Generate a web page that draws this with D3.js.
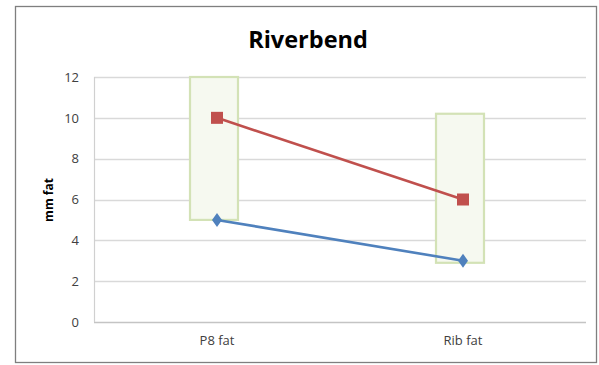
<!DOCTYPE html>
<html>
<head>
<meta charset="utf-8">
<script src="https://cdn.jsdelivr.net/npm/d3@7"></script>
<style>
  html, body { margin: 0; padding: 0; background: #fff; }
  svg { display: block; }
</style>
</head>
<body>
<svg id="chart" width="599" height="365"></svg>
<script>
// Measurement sites along the x axis
const categories = ["P8 fat", "Rib fat"];
// Two fat measurement series (mm)
const upperSeries = [10, 6];
const lowerSeries = [5, 3];
// Range boxes (high / low) drawn behind each site
const rangeHigh = [12, 10.2];
const rangeLow = [5, 2.9];
// Y axis ticks
const yTicks = [0, 2, 4, 6, 8, 10, 12];

const svg = d3.select("#chart");
const font = "'Open Sans', 'Liberation Sans', sans-serif";

// Chart frame
svg.append("rect")
  .attr("x", 15.5).attr("y", 6.5)
  .attr("width", 581).attr("height", 356)
  .attr("fill", "#fff")
  .attr("stroke", "#7f7f7f").attr("stroke-width", 1.3);

const plot = { left: 94, right: 586, top: 77, bottom: 322 };

const x = d3.scaleBand().domain(categories).range([plot.left, plot.right]);
const y = d3.scaleLinear().domain([0, 12]).range([plot.bottom, plot.top]);

// Gridlines
svg.append("g")
  .selectAll("line")
  .data(yTicks)
  .join("line")
  .attr("x1", plot.left).attr("x2", plot.right)
  .attr("y1", d => Math.round(y(d)) + 0.5).attr("y2", d => Math.round(y(d)) + 0.5)
  .attr("stroke", d => d === 0 ? "#c4c4c4" : "#d9d9d9")
  .attr("stroke-width", 1.5);

// Left axis line
svg.append("line")
  .attr("x1", plot.left + 0.5).attr("x2", plot.left + 0.5)
  .attr("y1", plot.top).attr("y2", plot.bottom)
  .attr("stroke", "#d0d0d0").attr("stroke-width", 1.2);

// Y tick labels
const yAxis = d3.axisLeft(y).tickValues(yTicks).tickSize(0).tickPadding(15);
const yg = svg.append("g").attr("transform", `translate(${plot.left},0)`).call(yAxis);
yg.select(".domain").remove();
yg.selectAll("text")
  .attr("font-family", font).attr("font-size", 13).attr("fill", "#404040");

// X category labels
const xAxis = d3.axisBottom(x).tickSize(0).tickPadding(14);
const xg = svg.append("g").attr("transform", `translate(0,${plot.bottom})`).call(xAxis);
xg.select(".domain").remove();
xg.selectAll("text")
  .attr("font-family", font).attr("font-size", 13).attr("fill", "#404040");

// Range boxes
const boxW = 48;
svg.append("g")
  .selectAll("rect")
  .data(categories)
  .join("rect")
  .attr("x", d => x(d) + x.bandwidth() / 2 - boxW / 2 - 3)
  .attr("y", (d, i) => y(rangeHigh[i]))
  .attr("width", boxW)
  .attr("height", (d, i) => y(rangeLow[i]) - y(rangeHigh[i]))
  .attr("fill", "#f6f9f0")
  .attr("stroke", "#d3e2b6")
  .attr("stroke-width", 2.2);

const cx = d => x(d) + x.bandwidth() / 2;
const line = d3.line().x(d => cx(d[0])).y(d => y(d[1]));

// Upper series (red squares)
svg.append("path")
  .datum(categories.map((c, i) => [c, upperSeries[i]]))
  .attr("d", line).attr("fill", "none")
  .attr("stroke", "#c0504d").attr("stroke-width", 2.6);
svg.append("g").selectAll("rect")
  .data(categories.map((c, i) => [c, upperSeries[i]]))
  .join("rect")
  .attr("x", d => cx(d[0]) - 6).attr("y", d => y(d[1]) - 6)
  .attr("width", 12).attr("height", 12)
  .attr("fill", "#c0504d");

// Lower series (blue diamonds)
svg.append("path")
  .datum(categories.map((c, i) => [c, lowerSeries[i]]))
  .attr("d", line).attr("fill", "none")
  .attr("stroke", "#4f81bd").attr("stroke-width", 2.6);
svg.append("g").selectAll("path.m")
  .data(categories.map((c, i) => [c, lowerSeries[i]]))
  .join("path")
  .attr("class", "m")
  .attr("d", "M0,-7L5,0L0,7L-5,0Z")
  .attr("transform", d => `translate(${cx(d[0])},${y(d[1])})`)
  .attr("fill", "#4f81bd");

// Title
svg.append("text")
  .attr("x", 308).attr("y", 48)
  .attr("text-anchor", "middle")
  .attr("font-family", font).attr("font-weight", "bold")
  .attr("font-size", 23.5).attr("fill", "#000")
  .text("Riverbend");

// Y axis title
svg.append("text")
  .attr("transform", "translate(53,200) rotate(-90)")
  .attr("text-anchor", "middle")
  .attr("font-family", font).attr("font-weight", "bold")
  .attr("font-size", 12).attr("fill", "#000")
  .text("mm fat");
</script>
</body>
</html>
